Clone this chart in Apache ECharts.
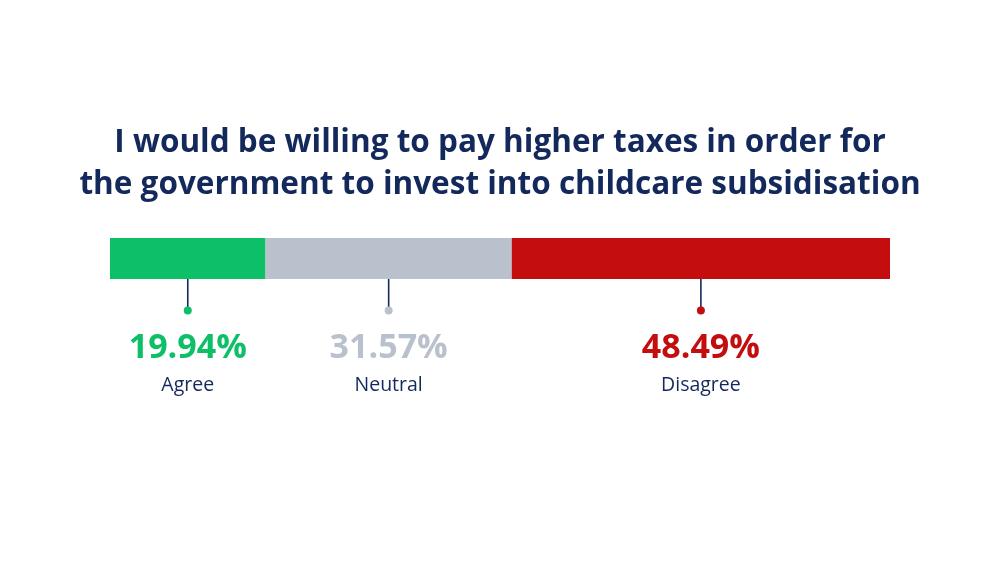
<!DOCTYPE html>
<html>
<head>
<meta charset="utf-8">
<script src="https://cdn.jsdelivr.net/npm/echarts@6/dist/echarts.min.js"></script>
<style>
html,body{margin:0;padding:0;background:#fff;}
#chart{width:1000px;height:563px;}
</style>
</head>
<body>
<div id="chart"></div>
<script>
var categories = ['Agree', 'Neutral', 'Disagree'];
var values = [19.94, 31.57, 48.49];
var colors = ['#0dbf66', '#b9c1cc', '#c30d0e'];
var titleText = 'I would be willing to pay higher taxes in order for\nthe government to invest into childcare subsidisation';

var navy = '#14295b';
var FONT = '"Open Sans", Lato, sans-serif';

var starts = [];
var acc = 0;
values.forEach(function (v) { starts.push(acc); acc += v; });

var series = categories.map(function (name, i) {
  return {
    name: name,
    type: 'bar',
    stack: 'total',
    barWidth: 41,
    data: [values[i]],
    itemStyle: { color: colors[i] },
    silent: true
  };
});

series.push({
  type: 'custom',
  silent: true,
  data: categories.map(function (name, i) { return [starts[i] + values[i] / 2, 0, i]; }),
  renderItem: function (params, api) {
    var i = api.value(2);
    var p = api.coord([api.value(0), api.value(1)]);
    var bottom = p[1] + 20.5;
    return {
      type: 'group',
      children: [
        { type: 'line', shape: { x1: p[0], y1: bottom, x2: p[0], y2: bottom + 30 }, style: { stroke: navy, lineWidth: 1.6 } },
        { type: 'circle', shape: { cx: p[0], cy: bottom + 31.5, r: 4 }, style: { fill: colors[i] } },
        { type: 'text', x: p[0], y: bottom + 69, style: { text: values[i].toFixed(2) + '%', fill: colors[i], font: 'bold 34px ' + FONT, align: 'center', verticalAlign: 'middle' } },
        { type: 'text', x: p[0], y: bottom + 106, style: { text: categories[i], fill: navy, font: '19.5px ' + FONT, align: 'center', verticalAlign: 'middle' } }
      ]
    };
  }
});

var chart = echarts.init(document.getElementById('chart'));
chart.setOption({
  backgroundColor: '#ffffff',
  animation: false,
  title: {
    text: titleText,
    left: 'center',
    top: 117,
    textStyle: { fontFamily: FONT, fontWeight: 'bold', fontSize: 31.5, color: navy, lineHeight: 42, align: 'center' }
  },
  grid: { left: 110, right: 110, top: 238, height: 41 },
  xAxis: { type: 'value', min: 0, max: 100, show: false },
  yAxis: { type: 'category', data: [''], show: false },
  series: series
});
</script>
</body>
</html>
